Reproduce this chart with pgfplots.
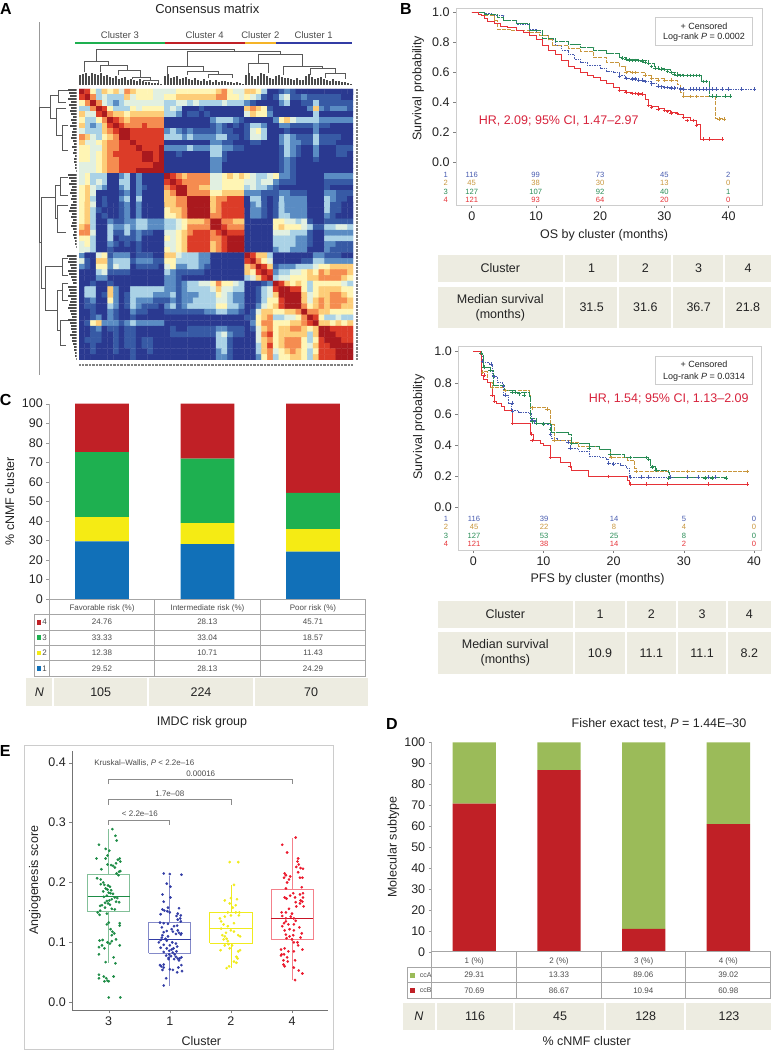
\documentclass[border=0pt]{standalone}
\usepackage{fontspec}
\setmainfont{Liberation Sans}
\usepackage{pgfplots}
\pgfplotsset{compat=1.18}

\definecolor{ink}{RGB}{35,35,35}
\definecolor{soft}{RGB}{75,75,75}
\definecolor{frame}{RGB}{205,205,205}
\definecolor{beige}{RGB}{237,236,225}
\definecolor{kmblue}{RGB}{70,90,175}
\definecolor{kmtan}{RGB}{200,150,60}
\definecolor{kmgreen}{RGB}{40,140,85}
\definecolor{kmred}{RGB}{230,50,55}
\definecolor{hrred}{RGB}{215,35,60}
\definecolor{barblue}{RGB}{17,112,184}
\definecolor{baryel}{RGB}{245,235,20}
\definecolor{bargrn}{RGB}{30,176,80}
\definecolor{barred}{RGB}{192,32,38}
\definecolor{ccagrn}{RGB}{155,187,89}
\definecolor{eblue}{RGB}{50,60,165}
\definecolor{egreen}{RGB}{30,140,70}
\definecolor{eyel}{RGB}{240,235,30}
\definecolor{ered}{RGB}{235,25,45}
\definecolor{clorange}{RGB}{245,180,40}

\newcommand{\fs}{\fontsize{12.5}{15}\selectfont}
\newcommand{\fsM}{\fontsize{9}{11}\selectfont}
\newcommand{\fsS}{\fontsize{8}{9.5}\selectfont}
\newcommand{\fsR}{\fontsize{7.6}{9}\selectfont}
\newcommand{\fsL}{\fontsize{16}{18}\bfseries\selectfont}

% px coordinates in the overlay axis
\newcommand{\lab}[4][]{\node[font=\fs,text=ink,align=center,#1] at (axis cs:#2,#3) {#4};}
\newcommand{\cell}[4]{\fill[beige] (axis cs:#1,#2) rectangle (axis cs:#3,#4);}
\newcommand{\brv}[5]{\addplot[dendro] coordinates {(#1,#2)(#1,#3)(#4,#3)(#4,#5)};}
\newcommand{\brh}[5]{\addplot[dendro] coordinates {(#1,#2)(#3,#2)(#3,#5)(#4,#5)};}
\newcommand{\riskOS}[8]{\lab[font=\fsR,text=#2]{445.7}{#1}{#3}\lab[font=\fsR,text=#2]{471.7}{#1}{#4}\lab[font=\fsR,text=#2]{535.7}{#1}{#5}\lab[font=\fsR,text=#2]{600}{#1}{#6}\lab[font=\fsR,text=#2]{664.3}{#1}{#7}\lab[font=\fsR,text=#2]{728.3}{#1}{#8}}
\newcommand{\riskPF}[8]{\lab[font=\fsR,text=#2]{446}{#1}{#3}\lab[font=\fsR,text=#2]{474}{#1}{#4}\lab[font=\fsR,text=#2]{544}{#1}{#5}\lab[font=\fsR,text=#2]{614}{#1}{#6}\lab[font=\fsR,text=#2]{684}{#1}{#7}\lab[font=\fsR,text=#2]{754}{#1}{#8}}

\pgfplotsset{
  dendro/.style={color=black!65,line width=0.5pt,forget plot},
  base/.style={scale only axis,
    /pgf/number format/assume math mode=true,
    tick label style={font=\fs,text=ink},
    label style={font=\fs,text=ink},
    yticklabel style={/pgf/number format/fixed}},
  km/.style={base,
    axis line style={frame,line width=0.9pt},
    tick style={black!50,line width=0.5pt},
    tick align=outside,major tick length=3pt,
    xtick pos=bottom,ytick pos=left,
    xtick={0,10,20,30,40},ytick={0,0.2,0.4,0.6,0.8,1},
    yticklabel style={/pgf/number format/fixed,/pgf/number format/fixed zerofill,/pgf/number format/precision=1},
    clip=false},
  censor/.style={only marks,mark=+,mark size=1.8pt,mark options={line width=0.5pt,solid},forget plot},
  stackbar/.style={base,ybar stacked,
    axis lines=left,axis line style={-,black!30,line width=0.8pt},
    ymin=0,ymax=100,ytick={0,10,20,30,40,50,60,70,80,90,100},
    y tick style={black!40},tick align=outside,major tick length=3pt,
    x tick style={draw=none}},
  colormap={cons}{rgb255=(42,57,144) rgb255=(55,90,165) rgb255=(90,140,195) rgb255=(170,210,230) rgb255=(225,240,225) rgb255=(255,245,180) rgb255=(253,205,120) rgb255=(245,140,80) rgb255=(220,60,40) rgb255=(170,25,30)},
}

\begin{document}
\begin{tikzpicture}
\path[use as bounding box] (0pt,0pt) rectangle (772pt,1050pt);

% A: consensus matrix
\begin{axis}[at={(79pt,690pt)},anchor=south west,scale only axis,width=274pt,height=271pt,
  hide axis,xmin=-0.5,xmax=47.5,ymin=-0.5,ymax=47.5,y dir=reverse,colormap name=cons,point meta min=0,point meta max=9]
\addplot[matrix plot*,mesh/cols=48,point meta=\thisrow{c}] table[x expr={\coordindex-48*floor((\coordindex+0.5)/48)},y expr={floor((\coordindex+0.5)/48)},row sep=\\] {
c\\
9\\8\\5\\3\\6\\5\\6\\4\\7\\6\\5\\5\\5\\4\\4\\4\\4\\5\\5\\5\\5\\5\\5\\5\\6\\7\\5\\4\\4\\6\\6\\5\\3\\0\\0\\1\\2\\1\\0\\0\\0\\0\\0\\0\\0\\0\\0\\0\\
8\\9\\7\\3\\4\\3\\3\\3\\6\\4\\5\\5\\5\\4\\4\\5\\5\\6\\6\\6\\6\\6\\6\\6\\7\\7\\5\\5\\4\\5\\4\\3\\1\\0\\1\\3\\4\\1\\1\\2\\1\\1\\1\\1\\1\\1\\0\\0\\
5\\7\\9\\7\\4\\3\\2\\3\\4\\4\\4\\4\\4\\4\\4\\3\\3\\4\\4\\3\\4\\3\\3\\3\\3\\4\\3\\3\\3\\2\\1\\0\\0\\0\\0\\2\\3\\0\\0\\1\\1\\3\\1\\1\\1\\1\\1\\1\\
3\\3\\7\\9\\8\\5\\3\\3\\3\\5\\4\\5\\5\\5\\5\\3\\4\\3\\0\\0\\0\\1\\0\\0\\0\\0\\0\\0\\0\\6\\7\\6\\5\\1\\0\\0\\0\\0\\0\\0\\2\\6\\2\\1\\2\\2\\2\\1\\
6\\4\\4\\8\\9\\7\\6\\6\\5\\6\\6\\6\\6\\6\\6\\3\\3\\2\\0\\1\\1\\0\\1\\0\\0\\0\\0\\0\\0\\4\\6\\5\\5\\2\\0\\0\\0\\0\\0\\0\\0\\3\\0\\0\\0\\0\\0\\0\\
5\\3\\3\\5\\7\\9\\8\\7\\6\\7\\7\\7\\7\\7\\7\\0\\0\\0\\0\\0\\0\\0\\0\\2\\3\\3\\3\\2\\1\\0\\0\\0\\0\\0\\2\\5\\6\\4\\3\\3\\3\\3\\2\\2\\2\\2\\2\\2\\
6\\3\\2\\3\\6\\8\\9\\8\\7\\7\\7\\8\\7\\7\\7\\0\\0\\0\\0\\0\\0\\0\\0\\1\\2\\1\\0\\1\\0\\1\\3\\3\\2\\0\\0\\2\\2\\1\\1\\1\\1\\2\\1\\1\\0\\0\\0\\0\\
4\\3\\3\\3\\6\\7\\8\\9\\9\\8\\8\\8\\8\\8\\8\\2\\3\\2\\1\\2\\1\\1\\1\\1\\2\\1\\1\\0\\0\\1\\4\\5\\3\\0\\0\\0\\1\\0\\0\\0\\0\\2\\0\\0\\0\\0\\0\\0\\
7\\6\\4\\3\\5\\6\\7\\9\\9\\8\\8\\8\\8\\8\\8\\3\\3\\3\\2\\3\\2\\2\\2\\2\\3\\3\\1\\1\\0\\1\\4\\4\\3\\0\\0\\2\\3\\2\\1\\1\\1\\3\\1\\1\\1\\1\\0\\0\\
6\\4\\4\\5\\6\\7\\7\\8\\8\\9\\8\\8\\8\\8\\8\\0\\0\\0\\0\\0\\0\\0\\0\\2\\2\\1\\1\\0\\0\\0\\1\\1\\0\\0\\0\\2\\3\\2\\2\\1\\1\\3\\1\\1\\1\\0\\0\\0\\
5\\5\\4\\4\\6\\7\\7\\8\\8\\8\\9\\8\\8\\8\\9\\2\\2\\2\\2\\3\\2\\2\\2\\3\\3\\2\\2\\1\\1\\0\\0\\0\\0\\0\\0\\1\\3\\2\\1\\0\\0\\2\\0\\0\\0\\1\\1\\1\\
5\\5\\4\\5\\6\\7\\8\\8\\8\\8\\8\\9\\9\\8\\9\\0\\0\\1\\0\\0\\0\\0\\0\\3\\3\\1\\0\\0\\0\\0\\0\\0\\0\\0\\0\\1\\3\\2\\1\\0\\0\\2\\0\\0\\0\\1\\1\\0\\
5\\5\\4\\5\\6\\7\\7\\8\\8\\8\\8\\9\\9\\8\\9\\0\\0\\0\\0\\0\\0\\0\\0\\2\\2\\1\\0\\0\\0\\0\\0\\0\\0\\0\\0\\1\\2\\1\\0\\0\\0\\1\\0\\0\\0\\0\\0\\0\\
4\\4\\4\\5\\6\\7\\7\\8\\8\\8\\8\\8\\8\\9\\9\\0\\0\\0\\0\\0\\0\\0\\0\\2\\2\\0\\0\\0\\0\\0\\0\\0\\0\\0\\0\\1\\2\\1\\0\\0\\0\\0\\0\\0\\0\\0\\0\\0\\
4\\4\\4\\5\\6\\7\\7\\8\\8\\8\\9\\9\\9\\9\\9\\0\\0\\0\\0\\0\\0\\0\\0\\2\\2\\0\\0\\0\\0\\0\\0\\0\\0\\0\\0\\1\\2\\1\\0\\0\\0\\0\\0\\0\\0\\0\\0\\0\\
4\\5\\3\\3\\3\\0\\0\\2\\3\\0\\2\\0\\0\\0\\0\\9\\8\\7\\6\\7\\7\\7\\7\\4\\4\\5\\6\\5\\6\\5\\4\\3\\3\\4\\5\\2\\2\\1\\0\\0\\0\\0\\0\\2\\2\\2\\2\\2\\
4\\5\\3\\4\\3\\0\\0\\3\\3\\0\\2\\0\\0\\0\\0\\8\\9\\8\\7\\7\\7\\7\\7\\4\\4\\5\\5\\5\\5\\4\\4\\3\\4\\4\\2\\1\\1\\1\\0\\0\\0\\0\\0\\1\\1\\1\\1\\1\\
5\\6\\4\\3\\2\\0\\0\\2\\3\\0\\2\\1\\0\\0\\0\\7\\8\\9\\9\\7\\7\\6\\6\\4\\4\\5\\5\\5\\5\\3\\4\\3\\3\\2\\1\\0\\0\\0\\0\\0\\0\\0\\0\\1\\0\\0\\0\\0\\
5\\6\\4\\0\\0\\0\\0\\1\\2\\0\\2\\0\\0\\0\\0\\6\\7\\9\\9\\7\\7\\7\\7\\5\\5\\6\\6\\6\\6\\2\\2\\2\\1\\1\\1\\2\\2\\1\\1\\1\\0\\0\\0\\2\\2\\1\\1\\1\\
5\\6\\3\\0\\1\\0\\0\\2\\3\\0\\3\\0\\0\\0\\0\\6\\6\\7\\7\\9\\9\\9\\9\\6\\7\\7\\8\\8\\8\\0\\3\\3\\1\\0\\1\\3\\2\\2\\2\\2\\0\\0\\0\\3\\2\\1\\1\\0\\
5\\6\\4\\0\\1\\0\\0\\1\\2\\0\\2\\0\\0\\0\\0\\6\\6\\7\\7\\9\\9\\9\\9\\6\\7\\8\\8\\8\\8\\0\\2\\3\\1\\0\\1\\3\\2\\2\\2\\2\\0\\0\\0\\3\\1\\1\\0\\0\\
5\\6\\3\\1\\0\\0\\0\\1\\2\\0\\2\\0\\0\\0\\0\\5\\6\\6\\7\\9\\9\\9\\9\\6\\7\\8\\8\\8\\8\\0\\2\\2\\1\\0\\1\\3\\2\\2\\2\\2\\0\\0\\0\\3\\1\\1\\0\\0\\
5\\6\\3\\0\\1\\0\\0\\1\\2\\0\\2\\0\\0\\0\\0\\5\\5\\6\\7\\9\\9\\9\\9\\7\\7\\8\\8\\8\\8\\0\\2\\2\\1\\0\\1\\3\\3\\2\\2\\2\\0\\0\\0\\2\\1\\0\\0\\0\\
5\\6\\3\\0\\0\\2\\1\\1\\2\\2\\3\\3\\2\\2\\2\\3\\3\\4\\5\\6\\6\\6\\7\\9\\9\\7\\7\\6\\6\\0\\0\\0\\0\\0\\5\\5\\4\\4\\3\\4\\1\\0\\0\\1\\1\\1\\1\\1\\
6\\7\\3\\0\\0\\3\\2\\2\\3\\2\\3\\3\\2\\2\\2\\3\\3\\4\\5\\7\\7\\7\\7\\9\\9\\8\\7\\7\\7\\0\\0\\0\\0\\0\\5\\6\\5\\5\\5\\4\\3\\1\\1\\3\\3\\4\\4\\3\\
7\\7\\4\\0\\0\\3\\1\\1\\3\\1\\2\\1\\1\\0\\0\\4\\4\\5\\6\\7\\8\\8\\8\\7\\8\\9\\8\\8\\8\\0\\0\\0\\0\\0\\4\\4\\4\\3\\3\\3\\1\\0\\0\\2\\2\\2\\2\\2\\
5\\5\\3\\0\\0\\3\\0\\1\\1\\1\\2\\0\\0\\0\\0\\5\\4\\5\\6\\8\\8\\8\\8\\7\\7\\8\\9\\9\\9\\0\\0\\0\\0\\0\\3\\3\\3\\3\\2\\2\\1\\0\\0\\3\\3\\3\\3\\3\\
4\\5\\3\\0\\0\\2\\1\\0\\1\\0\\1\\0\\0\\0\\0\\4\\4\\5\\6\\8\\8\\8\\8\\6\\7\\8\\9\\9\\9\\0\\0\\0\\0\\0\\3\\3\\3\\3\\2\\2\\1\\0\\0\\2\\2\\1\\1\\1\\
4\\4\\3\\0\\0\\1\\0\\0\\0\\0\\1\\0\\0\\0\\0\\5\\4\\5\\6\\8\\8\\8\\8\\6\\7\\8\\9\\9\\9\\0\\0\\0\\0\\0\\2\\3\\3\\2\\2\\2\\0\\0\\0\\2\\1\\1\\1\\1\\
2\\0\\0\\4\\5\\1\\2\\2\\2\\0\\1\\1\\1\\0\\0\\6\\6\\4\\3\\3\\3\\2\\2\\0\\0\\0\\0\\0\\0\\9\\8\\6\\6\\3\\0\\0\\0\\0\\0\\0\\0\\2\\2\\1\\1\\1\\0\\0\\
4\\1\\0\\6\\6\\2\\3\\3\\3\\1\\2\\2\\2\\1\\1\\5\\5\\3\\3\\3\\3\\2\\2\\0\\0\\0\\0\\0\\0\\8\\9\\7\\5\\4\\0\\0\\0\\0\\0\\1\\1\\3\\3\\2\\2\\2\\2\\2\\
2\\1\\0\\5\\5\\2\\4\\3\\3\\0\\1\\1\\1\\1\\0\\4\\5\\2\\2\\3\\3\\2\\1\\0\\0\\0\\0\\0\\0\\6\\7\\9\\8\\6\\1\\2\\2\\2\\3\\3\\3\\4\\5\\5\\6\\6\\6\\6\\
0\\0\\0\\3\\4\\1\\1\\1\\1\\0\\0\\0\\0\\0\\0\\3\\2\\1\\1\\1\\1\\1\\0\\0\\0\\0\\0\\0\\0\\6\\5\\8\\9\\8\\2\\3\\3\\4\\4\\5\\6\\5\\7\\6\\7\\7\\7\\6\\
0\\0\\0\\2\\2\\0\\0\\0\\0\\0\\0\\0\\0\\0\\0\\2\\2\\1\\0\\0\\0\\0\\0\\0\\0\\0\\0\\0\\0\\3\\4\\6\\8\\9\\3\\4\\4\\5\\5\\5\\6\\6\\7\\7\\7\\7\\6\\5\\
0\\0\\1\\0\\0\\1\\0\\0\\0\\0\\0\\0\\0\\0\\0\\2\\2\\1\\2\\3\\3\\4\\4\\5\\7\\5\\5\\4\\3\\0\\0\\0\\1\\2\\9\\8\\6\\5\\6\\5\\3\\5\\5\\5\\5\\5\\4\\3\\
0\\3\\3\\0\\0\\6\\2\\0\\0\\3\\3\\3\\3\\3\\3\\2\\2\\1\\2\\3\\3\\3\\3\\4\\6\\4\\4\\3\\3\\0\\0\\1\\3\\4\\8\\9\\9\\8\\8\\5\\3\\5\\6\\6\\6\\6\\5\\5\\
0\\3\\3\\0\\1\\6\\2\\0\\1\\3\\3\\3\\3\\2\\2\\2\\3\\1\\2\\2\\2\\3\\3\\3\\5\\4\\3\\2\\2\\0\\0\\1\\3\\4\\6\\9\\9\\9\\9\\6\\4\\5\\6\\6\\7\\7\\6\\5\\
0\\1\\2\\0\\0\\5\\2\\0\\1\\3\\2\\2\\2\\1\\1\\1\\2\\1\\2\\2\\3\\3\\3\\3\\4\\4\\3\\2\\2\\0\\0\\1\\3\\5\\5\\8\\9\\9\\9\\6\\4\\6\\7\\6\\7\\7\\7\\6\\
0\\1\\1\\0\\0\\3\\2\\0\\1\\3\\2\\1\\1\\1\\0\\2\\3\\1\\2\\3\\3\\3\\3\\3\\5\\5\\3\\3\\2\\0\\0\\2\\4\\5\\6\\8\\9\\9\\9\\7\\5\\6\\7\\6\\7\\7\\6\\6\\
0\\0\\1\\0\\0\\2\\1\\0\\0\\2\\1\\1\\0\\0\\0\\1\\1\\1\\1\\1\\1\\1\\2\\2\\3\\3\\2\\2\\1\\0\\1\\4\\6\\6\\5\\5\\6\\6\\7\\9\\7\\7\\6\\6\\5\\5\\5\\5\\
0\\0\\1\\2\\0\\2\\1\\0\\0\\1\\0\\0\\0\\0\\0\\0\\0\\0\\0\\0\\0\\0\\0\\0\\0\\0\\0\\0\\0\\1\\1\\5\\6\\7\\3\\3\\4\\4\\5\\7\\9\\8\\5\\3\\3\\4\\3\\3\\
0\\1\\5\\6\\2\\2\\2\\1\\2\\3\\2\\2\\2\\2\\2\\0\\0\\0\\0\\0\\0\\0\\0\\0\\0\\0\\0\\0\\0\\0\\2\\5\\7\\7\\5\\5\\5\\6\\6\\7\\8\\9\\6\\6\\5\\6\\5\\6\\
0\\0\\1\\2\\0\\1\\1\\0\\1\\1\\0\\0\\0\\0\\0\\0\\1\\0\\0\\1\\1\\1\\1\\1\\2\\2\\1\\1\\1\\0\\1\\4\\6\\7\\5\\6\\6\\7\\7\\6\\5\\6\\9\\9\\8\\8\\8\\8\\
0\\0\\1\\1\\0\\0\\1\\0\\1\\1\\0\\0\\0\\0\\0\\0\\1\\1\\1\\1\\1\\1\\1\\1\\3\\4\\2\\1\\1\\0\\0\\4\\7\\8\\5\\6\\6\\6\\6\\6\\3\\6\\9\\9\\9\\8\\8\\8\\
0\\1\\1\\1\\0\\0\\1\\0\\1\\1\\0\\1\\1\\0\\0\\0\\0\\0\\0\\0\\0\\0\\0\\0\\3\\3\\1\\0\\0\\0\\0\\4\\6\\7\\5\\6\\7\\7\\7\\5\\3\\5\\8\\9\\9\\9\\8\\8\\
0\\0\\1\\0\\0\\0\\1\\0\\1\\1\\0\\1\\1\\0\\0\\0\\0\\0\\0\\0\\0\\0\\0\\0\\3\\3\\1\\0\\0\\0\\0\\3\\6\\8\\5\\6\\7\\7\\7\\5\\4\\6\\8\\8\\9\\9\\9\\9\\
0\\0\\1\\0\\0\\0\\1\\0\\0\\1\\0\\0\\1\\0\\0\\0\\0\\0\\0\\0\\0\\0\\0\\0\\2\\3\\1\\0\\0\\0\\0\\3\\6\\7\\4\\5\\6\\7\\6\\5\\3\\5\\8\\8\\8\\9\\9\\9\\
0\\0\\0\\0\\0\\0\\0\\0\\0\\1\\0\\0\\0\\0\\0\\0\\0\\0\\0\\0\\0\\0\\0\\0\\2\\2\\1\\0\\0\\0\\0\\2\\5\\7\\3\\5\\5\\6\\6\\5\\3\\6\\8\\8\\8\\9\\9\\9\\
};
\end{axis}

% A: top dendrogram leaves
\begin{axis}[at={(79pt,965pt)},anchor=south west,scale only axis,width=274pt,height=40pt,hide axis,xmin=79,xmax=353,ymin=0,ymax=40]
\addplot[ycomb,color=black!70,line width=1.3pt] coordinates {
(80,10)(83,11)(86,12)(89,9)(92,12)(95,11)(98,10)(101,12)(104,9)(107,10)(110,8)(113,7)(116,9)(119,6)(122,7)(125,8)(128,5)(131,6)(134,5)(137,4)(140,6)(143,4)(146,3)(149,3)(152,2)(155,2)(158,1.5)(161,1)
(165,9)(168,11)(171,7)(174,8)(177,9)(180,6)(183,7)(186,8)(189,6)(192,5)(195,7)(198,5)(201,4)(204,6)(207,4)(210,5)(213,3)(216,5)(219,3)(222,4)(225,4)(228,3)(231,3)(234,2)(237,3)(240,2)(243,1)
(246,10)(249,12)(252,9)(255,6)(258,9)(261,12)(264,11)(267,9)(270,7)(273,6)
(276,9)(279,10)(282,8)(285,7)(288,7)(291,6)(294,5)(297,7)(300,5)(303,5)(306,9)(309,11)(312,8)(315,6)(318,7)(321,8)(324,6)(327,5)(330,4)(333,6)(336,4)(339,4)(342,3)(345,3)(348,2)(351,1)
};
\end{axis}

% A: left dendrogram leaves
\begin{axis}[at={(40pt,690pt)},anchor=south west,scale only axis,width=36.7pt,height=271pt,hide axis,xmin=0,xmax=36.7,x dir=reverse,ymin=89,ymax=360,y dir=reverse]
\addplot[xcomb,color=black!70,line width=1.3pt] coordinates {
(9,90)(8,93)(7,96)(9,99)(6,102)(8,105)(6,108)(7,111)(6,114)(4,117)(6,120)(5,123)(7,126)(4,129)(5,132)(5,135)(6,138)(4,141)(3,144)(5,147)(3,150)(4,153)(2,156)(3,159)(3,162)(2,165)(2,168)(1,171)
(9,175)(8,178)(6,181)(8,184)(5,187)(6,190)(7,193)(5,196)(6,199)(4,202)(6,205)(7,208)(8,211)(5,214)(6,217)(4,220)(5,223)(6,226)(4,229)(3,232)(4,235)(3,238)(2,241)(2,244)(1,247)
(10,256)(8,259)(9,262)(7,265)(6,268)(9,271)(8,274)(6,277)(5,280)(4,283)
(9,287)(8,290)(7,293)(9,296)(6,299)(7,302)(8,305)(9,308)(7,311)(6,314)(5,317)(9,320)(7,323)(6,326)(6,329)(5,332)(7,335)(5,338)(5,341)(4,344)(3,347)(3,350)(2,353)(2,356)(1,359)
};
\end{axis}

% B: overall survival
\begin{axis}[km,at={(456pt,845pt)},anchor=south west,width=306pt,height=197pt,
  xmin=-2.45,xmax=45.2,ymin=-0.285,ymax=1.031,
  xlabel={OS by cluster (months)},ylabel={Survival probability},
  xlabel style={at={(axis description cs:0.484,-0.156)},anchor=center},
  ylabel style={at={(axis description cs:-0.124,0.592)},anchor=center}]
\addplot[const plot,kmblue,line width=0.9pt,dash pattern=on 1.5pt off 1pt] coordinates {(0,1)(2,.995)(3,.98)(5,.95)(7,.92)(9,.885)(10,.87)(11,.85)(12,.82)(13,.78)(14,.75)(15,.72)(16,.69)(17,.67)(18,.65)(20,.63)(21,.61)(22,.6)(23,.58)(24,.56)(26,.55)(27,.54)(28,.525)(29,.51)(30,.5)(32,.495)(33,.49)(44,.49)};
\addplot[const plot,kmtan,line width=0.9pt,dash pattern=on 4pt off 1.2pt] coordinates {(0,1)(2,.98)(3.5,.95)(4,.89)(6,.88)(9,.87)(10.5,.85)(12,.82)(12.5,.78)(15,.76)(17,.74)(19,.7)(21,.67)(23,.64)(24,.61)(25,.6)(27,.58)(28,.56)(30,.55)(32,.52)(32.5,.47)(33,.44)(38,.29)(39.5,.29)};
\addplot[const plot,kmgreen,line width=0.9pt,dash pattern=on 6pt off 0.8pt] coordinates {(0,1)(2,.985)(4,.97)(5,.95)(7,.93)(9,.88)(11,.83)(13,.81)(15,.79)(17,.77)(19,.75)(21,.73)(23,.7)(24,.69)(26,.68)(27.5,.66)(28.5,.63)(30,.62)(31,.6)(32,.585)(33,.58)(35.7,.54)(37,.443)(40.5,.443)};
\addplot[const plot,kmred,line width=0.9pt] coordinates {(0,1)(1,.99)(1.5,.98)(2,.96)(2.5,.94)(3.5,.93)(4.5,.91)(5.5,.9)(7,.88)(8,.865)(9,.85)(10,.82)(11,.78)(12,.75)(13,.72)(14,.68)(15,.64)(16,.63)(17,.6)(18,.58)(19,.57)(20,.55)(21,.53)(22,.5)(23,.48)(24,.47)(25,.46)(26.5,.455)(27,.42)(27.5,.38)(28,.37)(29,.36)(30,.345)(31,.33)(32,.32)(33,.3)(34,.28)(35,.25)(35.6,.155)(39.2,.155)};
\addplot[censor,kmblue] coordinates {(23,.575)(24,.56)(25,.557)(25.5,.555)(26,.55)(26.5,.55)(27,.54)(28,.525)(29,.51)(29.5,.505)(30,.5)(30.5,.5)(31,.497)(31.5,.495)(32.5,.49)(33,.49)(34,.49)(34.5,.49)(35,.49)(35.5,.49)(36,.49)(36.5,.49)(37,.49)(37.5,.49)(38,.49)(39,.49)(40,.49)(42,.49)(44,.49)};
\addplot[censor,kmtan] coordinates {(24,.6)(25,.6)(25.5,.6)(27,.58)(28,.56)(29,.55)(30,.55)(31,.55)(33,.44)(34,.44)(35,.44)(37.5,.44)(38.5,.29)(39.3,.29)};
\addplot[censor,kmgreen] coordinates {(23.5,.695)(24,.69)(24.5,.685)(25,.68)(25.5,.68)(26,.68)(26.5,.675)(27,.67)(27.5,.66)(28,.64)(28.5,.63)(29,.63)(29.5,.625)(30,.62)(30.5,.61)(31,.6)(31.5,.59)(32,.585)(32.5,.58)(33,.58)(33.5,.58)(34,.58)(34.5,.58)(35,.58)(35.5,.58)(36,.54)(36.5,.54)(37.5,.443)(38,.443)(39.5,.443)(40.3,.443)};
\addplot[censor,kmred] coordinates {(23,.48)(24,.47)(25,.46)(25.5,.46)(26,.455)(26.5,.455)(27.5,.38)(28,.37)(29,.355)(30,.345)(30.5,.34)(31,.33)(32,.325)(33,.3)(33.5,.28)(34.5,.28)(35,.25)(36,.155)(37,.155)(39,.155)};
\end{axis}

% B: progression-free survival
\begin{axis}[km,at={(458.3pt,500pt)},anchor=south west,width=303.4pt,height=203.3pt,
  xmin=-2.14,xmax=41.1,ymin=-0.274,ymax=1.032,
  xlabel={PFS by cluster (months)},ylabel={Survival probability},
  xlabel style={at={(axis description cs:0.459,-0.145)},anchor=center},
  ylabel style={at={(axis description cs:-0.13,0.605)},anchor=center}]
\addplot[const plot,kmblue,line width=0.9pt,dash pattern=on 1.5pt off 1pt] coordinates {(0,1)(1.2,.97)(1.4,.93)(2.3,.92)(2.7,.84)(3.5,.8)(4.2,.78)(4.3,.72)(5,.67)(5.5,.62)(6.5,.61)(8,.6)(8.3,.56)(9,.54)(10.5,.53)(11,.47)(11.2,.44)(12,.43)(13.5,.42)(13.8,.38)(15,.36)(16.5,.33)(18,.32)(19,.31)(19.3,.285)(21,.27)(21.8,.25)(22.3,.195)(34.5,.195)};
\addplot[const plot,kmtan,line width=0.9pt,dash pattern=on 4pt off 1.2pt] coordinates {(0,1)(1,.98)(1.2,.87)(2,.8)(2.7,.77)(4,.77)(4.5,.75)(8,.72)(8.2,.64)(10.5,.63)(11,.53)(11.5,.43)(13.8,.42)(15,.39)(18,.37)(19.5,.32)(22,.3)(23,.25)(23.2,.23)(39,.23)};
\addplot[const plot,kmgreen,line width=0.9pt,dash pattern=on 6pt off 0.8pt] coordinates {(0,1)(1.2,.98)(1.4,.9)(2.5,.88)(2.8,.78)(4.5,.75)(6,.74)(8,.71)(8.2,.57)(9,.54)(11,.53)(11.2,.48)(13.5,.47)(14,.41)(16.5,.39)(18,.37)(19.5,.34)(21.5,.32)(25,.31)(25.2,.26)(26,.24)(27.8,.225)(27.9,.19)(36,.19)};
\addplot[const plot,kmred,line width=0.9pt] coordinates {(0,1)(1,.98)(1.2,.85)(1.5,.82)(2,.8)(2.5,.77)(2.7,.72)(3,.68)(3.3,.67)(4,.65)(4.5,.62)(5.6,.54)(8.2,.47)(8.5,.43)(9.5,.41)(10,.395)(11,.32)(12.4,.29)(13.8,.265)(14,.235)(16.4,.197)(21.9,.175)(22.3,.15)(39,.15)};
\addplot[censor,kmblue] coordinates {(1.3,.94)(2.5,.92)(3,.84)(4.3,.78)(4.6,.72)(5.6,.62)(5.6,.67)(8.4,.56)(8.7,.55)(11,.47)(13.5,.42)(13.8,.38)(19.3,.285)(20,.28)(22.4,.195)(24,.195)(25,.195)(28,.195)(30.5,.195)(32,.195)(33.5,.195)(34.5,.195)};
\addplot[censor,kmtan] coordinates {(1.3,.87)(2.7,.77)(4.5,.75)(8.4,.64)(10.5,.63)(11.5,.43)(19.6,.32)(23.2,.23)(30.5,.23)(39,.23)};
\addplot[censor,kmgreen] coordinates {(1.1,.99)(1.5,.9)(2.4,.88)(5.5,.74)(6,.74)(6.5,.73)(7.2,.72)(8.4,.55)(9,.54)(10,.535)(11,.5)(14,.41)(16.5,.38)(19.5,.34)(22.4,.32)(24.7,.32)(25,.31)(25.5,.26)(26,.24)(27.8,.19)(33,.19)(34,.19)(36,.19)};
\addplot[censor,kmred] coordinates {(1.5,.85)(2.7,.72)(3,.68)(5.6,.54)(8.3,.47)(8.4,.43)(11,.32)(13.8,.265)(19.2,.197)(22.4,.15)(24.7,.15)(27.7,.15)(33.5,.15)(39,.15)};
\end{axis}

% C: cluster share by IMDC risk group
\begin{axis}[stackbar,at={(49.3pt,451pt)},anchor=south west,width=316.4pt,height=195.3pt,
  xmin=-0.5,xmax=2.5,bar width=53.7pt,xtick={0,1,2},
  xticklabels={Favorable risk (\%),Intermediate risk (\%),Poor risk (\%)},
  xticklabel style={font=\fsS,text=soft,yshift=0.5pt},
  ylabel={\% cNMF cluster},
  ylabel style={at={(axis description cs:-0.125,0.5)},anchor=center}]
\addplot[fill=barblue,draw=none] coordinates {(0,29.52)(1,28.13)(2,24.29)};
\addplot[fill=baryel,draw=none] coordinates {(0,12.38)(1,10.71)(2,11.43)};
\addplot[fill=bargrn,draw=none] coordinates {(0,33.33)(1,33.04)(2,18.57)};
\addplot[fill=barred,draw=none] coordinates {(0,24.76)(1,28.13)(2,45.71)};
\end{axis}

% D: molecular subtype by cluster
\begin{axis}[stackbar,at={(431.7pt,98.3pt)},anchor=south west,width=339pt,height=209.4pt,
  xmin=-0.503,xmax=3.5,bar width=43.3pt,xtick={0,1,2,3},
  xticklabels={1 (\%),2 (\%),3 (\%),4 (\%)},
  xticklabel style={font=\fsS,text=soft,yshift=0.5pt},
  ylabel={Molecular subtype},
  ylabel style={at={(axis description cs:-0.113,0.5)},anchor=center}]
\addplot[fill=barred,draw=none] coordinates {(0,70.69)(1,86.67)(2,10.94)(3,60.98)};
\addplot[fill=ccagrn,draw=none] coordinates {(0,29.31)(1,13.33)(2,89.06)(3,39.02)};
\end{axis}

% E: angiogenesis score by cluster
\begin{axis}[base,at={(72.3pt,40pt)},anchor=south west,width=256pt,height=259.3pt,
  xmin=-0.596,xmax=3.594,ymin=-0.0129,ymax=0.42,
  axis lines=left,axis line style={-,black!55,line width=0.9pt},
  tick style={black!50},tick align=outside,major tick length=3pt,
  xtick={0,1,2,3},xticklabels={3,1,2,4},ytick={0,0.1,0.2,0.3,0.4},
  yticklabel style={/pgf/number format/fixed,/pgf/number format/fixed zerofill,/pgf/number format/precision=1},
  xlabel={Cluster},ylabel={Angiogenesis score},
  xlabel style={at={(axis description cs:0.504,-0.119)},anchor=center},
  ylabel style={at={(axis description cs:-0.146,0.5)},anchor=center},clip=false]
% boxes: whiskers, quartile box, median
\addplot[egreen!55,line width=0.8pt] coordinates {(0,0.066)(0,0.151)};
\addplot[egreen!55,line width=0.8pt] coordinates {(0,0.213)(0,0.29)};
\addplot[egreen!55,line width=0.8pt] coordinates {(-0.345,0.151)(0.345,0.151)(0.345,0.213)(-0.345,0.213)(-0.345,0.151)};
\addplot[egreen,line width=1pt] coordinates {(-0.345,0.177)(0.345,0.177)};
\addplot[eblue!60,line width=0.8pt] coordinates {(1,0.028)(1,0.082)};
\addplot[eblue!60,line width=0.8pt] coordinates {(1,0.133)(1,0.21)};
\addplot[eblue!60,line width=0.8pt] coordinates {(0.655,0.082)(1.345,0.082)(1.345,0.133)(0.655,0.133)(0.655,0.082)};
\addplot[eblue,line width=1pt] coordinates {(0.655,0.104)(1.345,0.104)};
\addplot[eyel,line width=0.8pt] coordinates {(2,0.057)(2,0.099)};
\addplot[eyel,line width=0.8pt] coordinates {(2,0.15)(2,0.195)};
\addplot[eyel,line width=0.8pt] coordinates {(1.655,0.099)(2.345,0.099)(2.345,0.15)(1.655,0.15)(1.655,0.099)};
\addplot[eyel,line width=1pt] coordinates {(1.655,0.123)(2.345,0.123)};
\addplot[ered!55,line width=0.8pt] coordinates {(3,0.037)(3,0.105)};
\addplot[ered!55,line width=0.8pt] coordinates {(3,0.188)(3,0.275)};
\addplot[ered!55,line width=0.8pt] coordinates {(2.655,0.105)(3.345,0.105)(3.345,0.188)(2.655,0.188)(2.655,0.105)};
\addplot[ered!85!black,line width=1pt] coordinates {(2.655,0.14)(3.345,0.14)};
\addplot[only marks,mark=*,mark size=1.15pt,color=egreen] table[x expr=\thisrow{dx},y=v,row sep=\\] {
dx v\\ 0.06 0.289\\ 0.11 0.278\\ 0.13 0.27\\ -0.16 0.263\\ -0.05 0.256\\ 0.01 0.253\\ -0.02 0.245\\ -0.2 0.24\\ -0.05 0.24\\ 0.18 0.24\\ 0.15 0.238\\ 0.19 0.235\\ 0.12 0.232\\ -0.02 0.23\\ 0.04 0.229\\ 0.07 0.228\\ 0.1 0.225\\ -0.12 0.222\\ 0.17 0.218\\ 0.13 0.215\\ 0.19 0.219\\ 0.16 0.212\\ -0.19 0.207\\ -0.13 0.205\\ -0.09 0.2\\ -0.13 0.197\\ -0.07 0.196\\ -0.01 0.195\\ 0.02 0.193\\ -0.05 0.19\\ -0.02 0.188\\ 0.04 0.187\\ -0.09 0.185\\ 0 0.183\\ 0.03 0.182\\ 0.07 0.181\\ -0.03 0.178\\ -0.08 0.176\\ 0.1 0.175\\ 0.14 0.174\\ 0.05 0.172\\ 0.01 0.17\\ -0.03 0.169\\ 0.12 0.168\\ 0.17 0.167\\ -0.06 0.166\\ -0.01 0.165\\ 0.02 0.163\\ -0.11 0.162\\ -0.14 0.161\\ -0.06 0.158\\ 0.05 0.156\\ 0.1 0.155\\ -0.14 0.153\\ -0.18 0.15\\ -0.03 0.148\\ -0.15 0.146\\ 0 0.133\\ -0.03 0.13\\ 0.18 0.132\\ 0.18 0.128\\ 0.03 0.122\\ 0.06 0.118\\ 0.09 0.115\\ 0.05 0.112\\ 0.12 0.105\\ -0.15 0.103\\ -0.1 0.104\\ -0.02 0.1\\ 0.05 0.102\\ 0.02 0.098\\ -0.11 0.095\\ 0.18 0.095\\ -0.16 0.092\\ -0.07 0.09\\ -0.16 0.08\\ 0.08 0.075\\ -0.05 0.067\\ 0.11 0.065\\ -0.16 0.046\\ -0.08 0.043\\ 0.08 0.043\\ -0.16 0.04\\ -0.04 0.04\\ -0.07 0.035\\ -0.02 0.036\\ 0 0.035\\ 0 0.008\\ 0.19 0.008\\
};
\addplot[only marks,mark=*,mark size=1.15pt,color=eblue] table[x expr=\thisrow{dx}+1,y=v,row sep=\\] {
dx v\\ -0.1 0.215\\ 0 0.214\\ 0.19 0.213\\ -0.05 0.198\\ 0.01 0.193\\ -0.12 0.18\\ 0.01 0.175\\ -0.1 0.168\\ -0.03 0.158\\ 0.15 0.157\\ -0.12 0.155\\ -0.09 0.153\\ -0.04 0.152\\ 0 0.15\\ 0.13 0.148\\ -0.15 0.147\\ 0.18 0.145\\ 0.11 0.144\\ 0.17 0.14\\ 0.13 0.138\\ 0.18 0.135\\ -0.16 0.133\\ -0.1 0.132\\ -0.03 0.131\\ 0.12 0.128\\ 0.07 0.127\\ -0.13 0.125\\ 0.03 0.122\\ 0.13 0.12\\ -0.05 0.119\\ 0.05 0.118\\ -0.1 0.117\\ 0.15 0.116\\ 0.19 0.115\\ 0.1 0.114\\ 0.18 0.113\\ -0.12 0.112\\ -0.03 0.11\\ -0.13 0.108\\ -0.07 0.106\\ -0.15 0.104\\ -0.05 0.103\\ 0.04 0.1\\ 0.1 0.098\\ -0.18 0.1\\ -0.1 0.096\\ 0 0.095\\ 0.12 0.093\\ -0.15 0.091\\ -0.05 0.09\\ 0.06 0.09\\ 0.03 0.088\\ -0.01 0.086\\ 0.11 0.085\\ -0.1 0.084\\ 0.05 0.083\\ -0.01 0.08\\ 0.08 0.08\\ -0.06 0.078\\ 0.02 0.077\\ 0.1 0.076\\ -0.02 0.074\\ 0.13 0.073\\ 0.19 0.075\\ 0.16 0.073\\ -0.02 0.072\\ 0.07 0.072\\ 0.15 0.07\\ -0.1 0.063\\ -0.14 0.06\\ -0.16 0.062\\ -0.1 0.058\\ 0 0.055\\ 0.19 0.062\\ 0.14 0.058\\ -0.12 0.054\\ 0.05 0.054\\ 0.2 0.052\\ 0.12 0.05\\ -0.06 0.04\\ -0.1 0.028\\
};
\addplot[only marks,mark=*,mark size=1.15pt,color=eyel] table[x expr=\thisrow{dx}+2,y=v,row sep=\\] {
dx v\\ -0.02 0.234\\ 0.12 0.234\\ 0.05 0.196\\ -0.1 0.17\\ 0 0.174\\ 0.1 0.172\\ -0.02 0.165\\ 0.08 0.162\\ 0.03 0.158\\ 0.14 0.15\\ -0.05 0.15\\ 0.08 0.15\\ 0 0.145\\ 0.13 0.145\\ -0.18 0.14\\ -0.1 0.143\\ -0.16 0.135\\ -0.12 0.13\\ -0.05 0.127\\ 0.05 0.132\\ -0.16 0.123\\ 0 0.12\\ 0.05 0.118\\ -0.08 0.116\\ -0.14 0.112\\ -0.1 0.11\\ 0.12 0.112\\ 0.15 0.11\\ -0.12 0.105\\ -0.07 0.106\\ -0.05 0.102\\ -0.04 0.097\\ 0.02 0.095\\ -0.1 0.095\\ -0.17 0.087\\ -0.02 0.09\\ 0.15 0.087\\ 0.12 0.085\\ 0.09 0.076\\ 0.11 0.073\\ 0.05 0.068\\ 0.09 0.066\\ -0.07 0.057\\ -0.03 0.06\\
};
\addplot[only marks,mark=*,mark size=1.15pt,color=ered] table[x expr=\thisrow{dx}+3,y=v,row sep=\\] {
dx v\\ 0.06 0.275\\ -0.16 0.263\\ -0.08 0.25\\ 0.1 0.24\\ 0.09 0.235\\ 0.11 0.23\\ 0.07 0.226\\ 0.14 0.224\\ 0.18 0.223\\ 0.1 0.217\\ -0.12 0.215\\ -0.1 0.212\\ -0.03 0.21\\ -0.13 0.208\\ -0.05 0.205\\ 0.13 0.208\\ 0.17 0.208\\ -0.08 0.2\\ 0.16 0.192\\ -0.1 0.19\\ 0.02 0.182\\ 0.18 0.182\\ 0.13 0.18\\ -0.03 0.178\\ 0.05 0.175\\ -0.12 0.175\\ 0.18 0.175\\ -0.09 0.173\\ 0.14 0.17\\ 0.17 0.168\\ 0.06 0.167\\ 0.13 0.165\\ 0.07 0.16\\ 0.19 0.16\\ -0.05 0.156\\ -0.17 0.15\\ -0.1 0.15\\ 0 0.148\\ -0.16 0.144\\ -0.02 0.143\\ 0.03 0.14\\ -0.1 0.14\\ 0.06 0.136\\ -0.1 0.135\\ -0.13 0.132\\ -0.06 0.13\\ 0.03 0.13\\ -0.16 0.127\\ 0.12 0.125\\ -0.04 0.122\\ -0.12 0.12\\ 0.03 0.12\\ 0.16 0.115\\ -0.1 0.113\\ -0.04 0.11\\ 0.02 0.112\\ 0.14 0.108\\ 0 0.105\\ -0.09 0.107\\ 0.09 0.1\\ 0.03 0.1\\ 0.1 0.095\\ -0.12 0.09\\ -0.18 0.088\\ -0.06 0.085\\ 0.03 0.085\\ 0.17 0.088\\ -0.17 0.08\\ -0.13 0.08\\ -0.18 0.078\\ -0.08 0.075\\ -0.14 0.07\\ -0.07 0.068\\ 0.05 0.07\\ -0.14 0.063\\ 0.03 0.058\\ -0.12 0.06\\ 0.11 0.053\\ 0.17 0.048\\ 0.05 0.037\\
};
\addplot[black!45,line width=0.7pt] coordinates {(0,0.296)(0,0.304)(1,0.304)(1,0.296)};
\addplot[black!45,line width=0.7pt] coordinates {(0,0.330)(0,0.338)(2,0.338)(2,0.330)};
\addplot[black!45,line width=0.7pt] coordinates {(0,0.364)(0,0.372)(3,0.372)(3,0.364)};
\node[font=\fsS,text=soft] at (axis cs:0.51,0.314) {< 2.2e–16};
\node[font=\fsS,text=soft] at (axis cs:1,0.348) {1.7e–08};
\node[font=\fsS,text=soft] at (axis cs:1.506,0.382) {0.00016};
\node[font=\fsS,text=soft,anchor=west,inner sep=0pt] at (axis cs:-0.24,0.4) {Kruskal–Wallis, \textit{P} < 2.2e–16};
\end{axis}

% overlay in reference pixels: titles, tables, dendrogram branches
\begin{axis}[at={(0pt,0pt)},anchor=south west,scale only axis,width=772pt,height=1050pt,hide axis,
  xmin=0,xmax=772,ymin=0,ymax=1050,y dir=reverse,clip=false]
% panel letters
\lab[font=\fsL,text=black]{6}{9.3}{A}
\lab[font=\fsL,text=black]{406}{9}{B}
\lab[font=\fsL,text=black]{5.7}{400}{C}
\lab[font=\fsL,text=black]{392}{724}{D}
\lab[font=\fsL,text=black]{5.3}{751}{E}

% A furniture
\lab[font=\fontsize{13}{15}\selectfont]{207.3}{9.3}{Consensus matrix}
\lab[font=\fontsize{9.5}{11}\selectfont,text=soft]{120}{34.7}{Cluster 3}
\lab[font=\fontsize{9.5}{11}\selectfont,text=soft]{204.7}{34.7}{Cluster 4}
\lab[font=\fontsize{9.5}{11}\selectfont,text=soft]{260.3}{34.7}{Cluster 2}
\lab[font=\fontsize{9.5}{11}\selectfont,text=soft]{313.7}{34.7}{Cluster 1}
\addplot[color=black!40,line width=0.8pt,forget plot] coordinates {(39.3,22)(39.3,375)};
\addplot[color=black!50,line width=2pt,dash pattern=on 0.7pt off 0.7pt,forget plot] coordinates {(357,89)(357,360)};
\addplot[color=black!50,line width=2pt,dash pattern=on 0.7pt off 0.7pt,forget plot] coordinates {(79,365)(353,365)};
% top dendrogram branches
\brv{96}{61.7}{49.5}{234}{51.7}
\brv{187}{66}{51.7}{280}{54}
\brv{84.3}{72}{61.7}{108}{65}
\brv{100}{72}{65}{127}{70}
\brv{118}{75}{70}{140}{77}
\brv{132}{79}{77}{150}{80}
\brv{143}{82}{80}{158}{83}
\brv{167}{75}{66}{203}{71}
\brv{187}{75}{71}{218}{74}
\brv{208}{78}{74}{232}{78}
\brv{258}{63}{54}{302}{66}
\brv{248}{73}{63}{268}{73}
\brv{283}{75}{66}{322}{68}
\brv{310}{75}{68}{335}{73}
\brv{325}{78}{73}{345}{79}
% left dendrogram branches
\brh{50.7}{107}{39.3}{41.7}{242}
\brh{58}{95}{50.7}{56}{118}
\brh{68}{90}{58}{66}{102}
\brh{66}{108}{56}{62}{135}
\brh{68}{125}{62}{68}{150}
\brh{55}{197}{41.7}{45}{288}
\brh{60}{185}{55}{57}{218}
\brh{68}{177}{60}{68}{195}
\brh{68}{205}{57}{66}{232}
\brh{62}{266}{45}{57}{310}
\brh{68}{258}{62}{68}{275}
\brh{62}{290}{57}{60}{330}
\brh{68}{283}{62}{68}{300}
\brh{68}{320}{60}{66}{345}
% cluster bars, drawn last in this group
\fill[bargrn] (axis cs:75,42.4) rectangle (axis cs:164.5,44.2);
\fill[barred] (axis cs:164.5,42.4) rectangle (axis cs:245,44.2);
\fill[clorange] (axis cs:245,42.4) rectangle (axis cs:276,44.2);
\fill[eblue] (axis cs:276,42.4) rectangle (axis cs:352,44.2);

% B overlays
\fill[white] (axis cs:655.7,17.7) rectangle (axis cs:752.7,45.7);
\draw[frame,line width=0.8pt] (axis cs:655.7,17.7) rectangle (axis cs:752.7,45.7);
\lab[font=\fsM]{704}{26}{+ Censored}
\lab[font=\fsM]{704}{37.3}{Log-rank \textit{P} = 0.0002}
\lab[text=hrred]{558.7}{120.7}{HR, 2.09; 95\% CI, 1.47–2.97}
\riskOS{174.7}{kmblue}{1}{116}{99}{73}{45}{2}
\riskOS{183.3}{kmtan}{2}{45}{38}{30}{13}{0}
\riskOS{191.7}{kmgreen}{3}{127}{107}{92}{40}{1}
\riskOS{200}{kmred}{4}{121}{93}{64}{20}{0}
\cell{437.7}{255}{563.3}{282}\cell{565}{255}{617.3}{282}\cell{619.3}{255}{670.7}{282}\cell{672.7}{255}{723.3}{282}\cell{725.3}{255}{770.7}{282}
\cell{437.7}{286.7}{563.3}{328.3}\cell{565}{286.7}{617.3}{328.3}\cell{619.3}{286.7}{670.7}{328.3}\cell{672.7}{286.7}{723.3}{328.3}\cell{725.3}{286.7}{770.7}{328.3}
\lab{500.3}{268.5}{Cluster}\lab{591.7}{268.5}{1}\lab{645.3}{268.5}{2}\lab{698.7}{268.5}{3}\lab{748}{268.5}{4}
\lab{500.3}{307.5}{Median survival\\(months)}\lab{591.7}{307.5}{31.5}\lab{645.3}{307.5}{31.6}\lab{698.7}{307.5}{36.7}\lab{748}{307.5}{21.8}

\fill[white] (axis cs:655.7,356) rectangle (axis cs:752.7,384.3);
\draw[frame,line width=0.8pt] (axis cs:655.7,356) rectangle (axis cs:752.7,384.3);
\lab[font=\fsM]{704}{364.7}{+ Censored}
\lab[font=\fsM]{704}{376.7}{Log-rank \textit{P} = 0.0314}
\lab[text=hrred]{668.7}{399.3}{HR, 1.54; 95\% CI, 1.13–2.09}
\riskPF{519}{kmblue}{1}{116}{39}{14}{5}{0}
\riskPF{527.3}{kmtan}{2}{45}{22}{8}{4}{0}
\riskPF{535.7}{kmgreen}{3}{127}{53}{25}{8}{0}
\riskPF{544}{kmred}{4}{121}{38}{14}{2}{0}
\cell{437.7}{601}{573.3}{627.7}\cell{575}{601}{625}{627.7}\cell{626.7}{601}{676}{627.7}\cell{677.7}{601}{725.7}{627.7}\cell{727.7}{601}{770.7}{627.7}
\cell{437.7}{632.3}{573.3}{674}\cell{575}{632.3}{625}{674}\cell{626.7}{632.3}{676}{674}\cell{677.7}{632.3}{725.7}{674}\cell{727.7}{632.3}{770.7}{674}
\lab{505.3}{614.5}{Cluster}\lab{600}{614.5}{1}\lab{651.3}{614.5}{2}\lab{702}{614.5}{3}\lab{749.3}{614.5}{4}
\lab{505.3}{653}{Median survival\\(months)}\lab{600}{653}{10.9}\lab{651.3}{653}{11.1}\lab{702}{653}{11.1}\lab{749.3}{653}{8.2}

% C table
\draw[black!35,line width=0.6pt] (axis cs:49.3,599) rectangle (axis cs:365.7,676);
\draw[black!35,line width=0.6pt] (axis cs:34,614.3) rectangle (axis cs:365.7,676);
\draw[black!35,line width=0.6pt] (axis cs:34,630)--(axis cs:365.7,630);
\draw[black!35,line width=0.6pt] (axis cs:34,645.3)--(axis cs:365.7,645.3);
\draw[black!35,line width=0.6pt] (axis cs:34,660.7)--(axis cs:365.7,660.7);
\draw[black!35,line width=0.6pt] (axis cs:49.3,599)--(axis cs:49.3,676);
\draw[black!35,line width=0.6pt] (axis cs:154.3,599)--(axis cs:154.3,676);
\draw[black!35,line width=0.6pt] (axis cs:260.3,599)--(axis cs:260.3,676);
\fill[barred] (axis cs:36.7,619.8) rectangle (axis cs:41.3,624.6);
\fill[bargrn] (axis cs:36.7,635.2) rectangle (axis cs:41.3,640);
\fill[baryel] (axis cs:36.7,650.6) rectangle (axis cs:41.3,655.4);
\fill[barblue] (axis cs:36.7,666) rectangle (axis cs:41.3,670.8);
\lab[font=\fsS,text=soft]{44.7}{622.2}{4}\lab[font=\fsS,text=soft]{44.7}{637.6}{3}\lab[font=\fsS,text=soft]{44.7}{653}{2}\lab[font=\fsS,text=soft]{44.7}{668.4}{1}
\lab[font=\fsS,text=soft]{102}{622.2}{24.76}\lab[font=\fsS,text=soft]{207.3}{622.2}{28.13}\lab[font=\fsS,text=soft]{313}{622.2}{45.71}
\lab[font=\fsS,text=soft]{102}{637.6}{33.33}\lab[font=\fsS,text=soft]{207.3}{637.6}{33.04}\lab[font=\fsS,text=soft]{313}{637.6}{18.57}
\lab[font=\fsS,text=soft]{102}{653}{12.38}\lab[font=\fsS,text=soft]{207.3}{653}{10.71}\lab[font=\fsS,text=soft]{313}{653}{11.43}
\lab[font=\fsS,text=soft]{102}{668.4}{29.52}\lab[font=\fsS,text=soft]{207.3}{668.4}{28.13}\lab[font=\fsS,text=soft]{313}{668.4}{24.29}
\cell{26}{677.7}{52.3}{705.7}\cell{54}{677.7}{147.3}{705.7}\cell{149}{677.7}{253.3}{705.7}\cell{255}{677.7}{367.7}{705.7}
\lab{39.5}{691.7}{\textit{N}}\lab{100.7}{691.7}{105}\lab{201}{691.7}{224}\lab{311}{691.7}{70}
\lab{202}{722}{IMDC risk group}

% D table
\lab{659}{724}{Fisher exact test, \textit{P} = 1.44E–30}
\draw[black!35,line width=0.6pt] (axis cs:431.7,951.7) rectangle (axis cs:770.7,998.3);
\draw[black!35,line width=0.6pt] (axis cs:407.3,967.3) rectangle (axis cs:770.7,998.3);
\draw[black!35,line width=0.6pt] (axis cs:407.3,982.7)--(axis cs:770.7,982.7);
\draw[black!35,line width=0.6pt] (axis cs:431.7,951.7)--(axis cs:431.7,998.3);
\draw[black!35,line width=0.6pt] (axis cs:516.7,951.7)--(axis cs:516.7,998.3);
\draw[black!35,line width=0.6pt] (axis cs:601,951.7)--(axis cs:601,998.3);
\draw[black!35,line width=0.6pt] (axis cs:685.7,951.7)--(axis cs:685.7,998.3);
\fill[ccagrn] (axis cs:410,972.7) rectangle (axis cs:415,977.7);
\fill[barred] (axis cs:410,988) rectangle (axis cs:415,993);
\lab[font=\fontsize{7}{8}\selectfont,text=soft]{425.7}{975.2}{ccA}\lab[font=\fontsize{7}{8}\selectfont,text=soft]{425.7}{990.5}{ccB}
\lab[font=\fsS,text=soft]{474.3}{975.2}{29.31}\lab[font=\fsS,text=soft]{559}{975.2}{13.33}\lab[font=\fsS,text=soft]{643.3}{975.2}{89.06}\lab[font=\fsS,text=soft]{728.3}{975.2}{39.02}
\lab[font=\fsS,text=soft]{474.3}{990.5}{70.69}\lab[font=\fsS,text=soft]{559}{990.5}{86.67}\lab[font=\fsS,text=soft]{643.3}{990.5}{10.94}\lab[font=\fsS,text=soft]{728.3}{990.5}{60.98}
\cell{403.3}{1002.7}{435}{1030}\cell{436.7}{1002.7}{513.3}{1030}\cell{515}{1002.7}{604}{1030}\cell{606}{1002.7}{684}{1030}\cell{686}{1002.7}{770.7}{1030}
\lab{419}{1016.3}{\textit{N}}\lab{475}{1016.3}{116}\lab{560}{1016.3}{45}\lab{645.7}{1016.3}{128}\lab{729}{1016.3}{123}
\lab{586.7}{1040.7}{\% cNMF cluster}

% E frame
\draw[black!20,line width=0.8pt] (axis cs:24,745.7) rectangle (axis cs:333,1049.5);
\end{axis}
\end{tikzpicture}
\end{document}
